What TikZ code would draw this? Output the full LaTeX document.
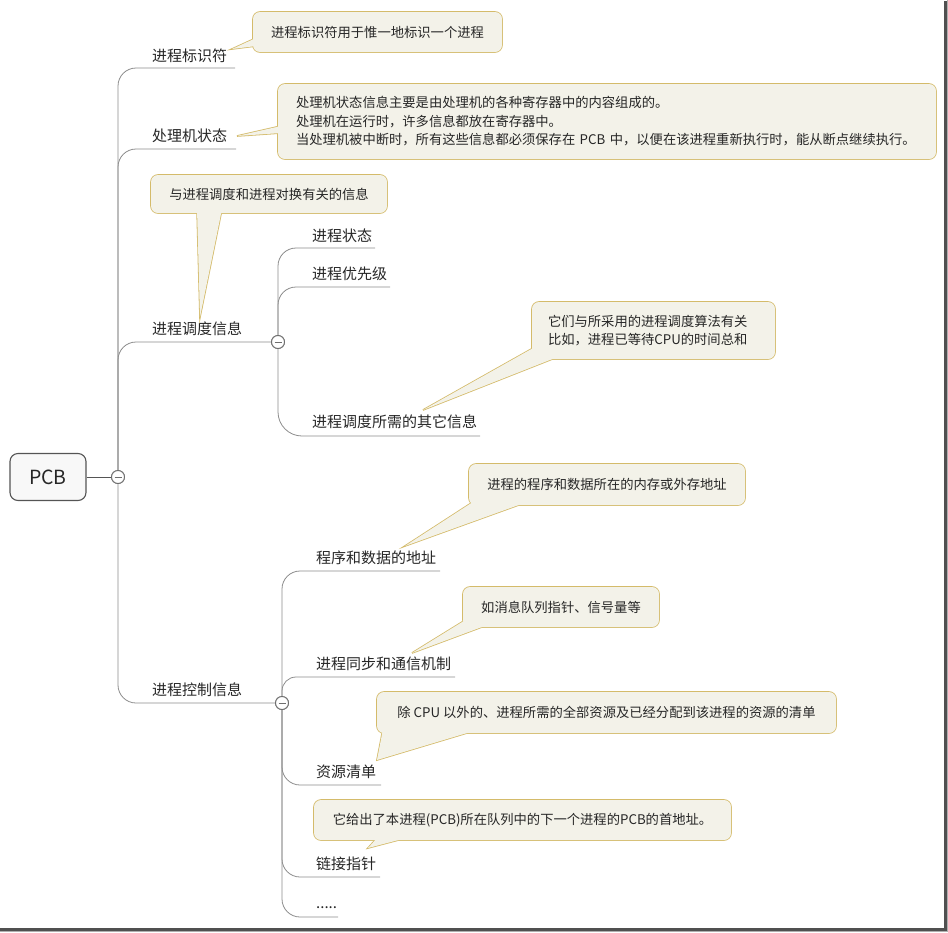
\documentclass[tikz,border=0pt]{standalone}
\usepackage{fontspec}
\newfontfamily\cjk{Noto Sans CJK SC}
\definecolor{cfill}{RGB}{243,242,233}
\definecolor{cborder}{RGB}{212,187,106}
\definecolor{ctext}{RGB}{38,38,38}
\definecolor{branchline}{RGB}{140,140,140}
\definecolor{rootborder}{RGB}{85,85,85}
\definecolor{rootfill}{RGB}{248,248,248}
\definecolor{togglecol}{RGB}{110,110,110}
\definecolor{frameshade}{RGB}{80,80,80}
\definecolor{framelight}{RGB}{175,175,175}
\begin{document}
\begin{tikzpicture}[x=1pt,y=-1pt,
  rootbox/.style={draw=rootborder, line width=1.1pt, fill=rootfill, rounded corners=8pt,
    minimum width=76pt, minimum height=47pt, inner sep=0pt,
    font=\cjk\fontsize{19.5}{22}\selectfont, text=ctext},
  toggle/.style={circle, draw=togglecol, fill=white, line width=0.9pt, minimum size=13pt, inner sep=0pt,
    path picture={\draw[togglecol, line width=1pt]
      ([xshift=-3.5pt]path picture bounding box.center) -- ([xshift=3.5pt]path picture bounding box.center);}},
  rootline/.style={draw=rootborder, line width=0.9pt},
  branch/.style={draw=branchline, line width=0.8pt, rounded corners=18pt},
  topic/.style={anchor=west, inner sep=0pt, font=\cjk\fontsize{15}{18}\selectfont, text=ctext,
    text height=13pt, text depth=2pt},
  cbox/.style={rounded corners=7pt, fill=cfill, preaction={draw=cborder, line width=1.6pt},
    inner sep=0pt, font=\cjk\fontsize{13.3}{18.5}\selectfont, text=ctext},
  cedge/.style={draw=cborder, line width=1.6pt},
  cpatch/.style={fill=cfill}
]
\useasboundingbox (0,0) rectangle (948,932);

% root and toggles
\node[rootbox] (pcb) at (48,477) {PCB};
\coordinate (t0p) at (118,477);
\coordinate (t1p) at (278,342);
\coordinate (t2p) at (282,703);

% end points of underlines
\coordinate (e1) at (235,68);
\coordinate (e2) at (236,149);
\coordinate (s1) at (375,248);
\coordinate (s2) at (390,287);
\coordinate (s3) at (480,436);
\coordinate (r1) at (440,571);
\coordinate (r2) at (455,677);
\coordinate (r3) at (381,785);
\coordinate (r4) at (380,877);
\coordinate (r5) at (338,917);

% toggles (named here, redrawn on top of the lines below)
\node[toggle] (t0) at (t0p) {};
\node[toggle] (t1) at (t1p) {};
\node[toggle] (t2) at (t2p) {};

% connectors
\draw[rootline] (pcb.east) -- (t0.west);
\draw[branch] (t0.north) |- (e1);
\draw[branch] (t0.north) |- (e2);
\draw[branch] (t0.north) |- (t1.west);
\draw[branch] (t0.south) |- (t2.west);
\draw[branch] (t1.north) |- (s1);
\draw[branch] (t1.north) |- (s2);
\draw[branch, rounded corners=24pt] (t1.south) |- (s3);
\draw[branch] (t2.north) |- (r1);
\draw[branch, rounded corners=14pt] (t2.north) |- (r2);
\draw[branch] (t2.south) |- (r3);
\draw[branch] (t2.south) |- (r4);
\draw[branch] (t2.south) |- (r5);

\node[toggle] at (t0p) {};
\node[toggle] at (t1p) {};
\node[toggle] at (t2p) {};

% topic labels
\node[topic] (n1) at (152,56) {进程标识符};
\node[topic] (n2) at (152,136) {处理机状态};
\node[topic] (n3) at (152,329) {进程调度信息};
\node[topic] (n4) at (152,690) {进程控制信息};
\node[topic] (m1) at (312,236) {进程状态};
\node[topic] (m2) at (312,274) {进程优先级};
\node[topic] (m3) at (312,422) {进程调度所需的其它信息};
\node[topic] (k1) at (316,558) {程序和数据的地址};
\node[topic] (k2) at (316,664) {进程同步和通信机制};
\node[topic] (k3) at (316,772) {资源清单};
\node[topic] (k4) at (316,864) {链接指针};
\node[topic] (k5) at (316,903) {.....};

% callout 1
\coordinate (p1t) at (232,49); \coordinate (p1a) at (256,38); \coordinate (p1b) at (256,46);
\draw[cedge] (p1t) -- (p1a) -- (p1b) -- cycle;
\node[cbox, minimum width=249pt, minimum height=40pt] (c1) at (377.5,32) {进程标识符用于惟一地标识一个进程};
\fill[cpatch] (p1t) -- (p1a) -- (p1b) -- cycle;

% callout 2
\coordinate (p2t) at (237,136); \coordinate (p2a) at (281,126); \coordinate (p2b) at (281,133);
\draw[cedge] (p2t) -- (p2a) -- (p2b) -- cycle;
\node[cbox, minimum width=658pt, minimum height=75pt, text width=622pt, align=left] (c2) at (607,121.5)
  {处理机状态信息主要是由处理机的各种寄存器中的内容组成的。\\
   处理机在运行时，许多信息都放在寄存器中。\\
   当处理机被中断时，所有这些信息都必须保存在 PCB 中，以便在该进程重新执行时，能从断点继续执行。};
\fill[cpatch] (p2t) -- (p2a) -- (p2b) -- cycle;

% callout 3
\coordinate (p3t) at (200,317); \coordinate (p3a) at (197,209); \coordinate (p3b) at (222,209);
\draw[cedge] (p3t) -- (p3a) -- (p3b) -- cycle;
\node[cbox, minimum width=236pt, minimum height=38pt] (c3) at (269,194) {与进程调度和进程对换有关的信息};
\fill[cpatch] (p3t) -- (p3a) -- (p3b) -- cycle;

% callout 4
\coordinate (p4t) at (423,410); \coordinate (p4a) at (535,347); \coordinate (p4b) at (560,356);
\draw[cedge] (p4t) -- (p4a) -- (p4b) -- cycle;
\node[cbox, minimum width=243pt, minimum height=57pt, text width=211pt, align=left] (c4) at (653.5,330.5)
  {它们与所采用的进程调度算法有关\\比如，进程已等待CPU的时间总和};
\fill[cpatch] (p4t) -- (p4a) -- (p4b) -- cycle;

% callout 5
\coordinate (p5t) at (405,546); \coordinate (p5a) at (476,500); \coordinate (p5b) at (527,502);
\draw[cedge] (p5t) -- (p5a) -- (p5b) -- cycle;
\node[cbox, minimum width=276pt, minimum height=41pt] (c5) at (607,484.5) {进程的程序和数据所在的内存或外存地址};
\fill[cpatch] (p5t) -- (p5a) -- (p5b) -- cycle;

% callout 6
\coordinate (p6t) at (412,653); \coordinate (p6a) at (467,619); \coordinate (p6b) at (490,624);
\draw[cedge] (p6t) -- (p6a) -- (p6b) -- cycle;
\node[cbox, minimum width=196pt, minimum height=40pt] (c6) at (561,607) {如消息队列指针、信号量等};
\fill[cpatch] (p6t) -- (p6a) -- (p6b) -- cycle;

% callout 7
\coordinate (p7t) at (377,760); \coordinate (p7a) at (383,729); \coordinate (p7b) at (477,730);
\draw[cedge] (p7t) -- (p7a) -- (p7b) -- cycle;
\node[cbox, minimum width=459pt, minimum height=41pt] (c7) at (606.5,712.5) {除 CPU 以外的、进程所需的全部资源及已经分配到该进程的资源的清单};
\fill[cpatch] (p7t) -- (p7a) -- (p7b) -- cycle;

% callout 8
\coordinate (p8t) at (368,848); \coordinate (p8a) at (378,837); \coordinate (p8b) at (410,837);
\draw[cedge] (p8t) -- (p8a) -- (p8b) -- cycle;
\node[cbox, minimum width=417pt, minimum height=40pt] (c8) at (522.5,820) {它给出了本进程(PCB)所在队列中的下一个进程的PCB的首地址。};
\fill[cpatch] (p8t) -- (p8a) -- (p8b) -- cycle;

% frame shadow
\fill[framelight] (946.5,0) rectangle (948,932);
\fill[framelight] (0,930.5) rectangle (948,932);
\fill[frameshade] (944,1) rectangle (946.5,930.5);
\fill[frameshade] (0,928) rectangle (946.5,930.5);
\end{tikzpicture}
\end{document}
